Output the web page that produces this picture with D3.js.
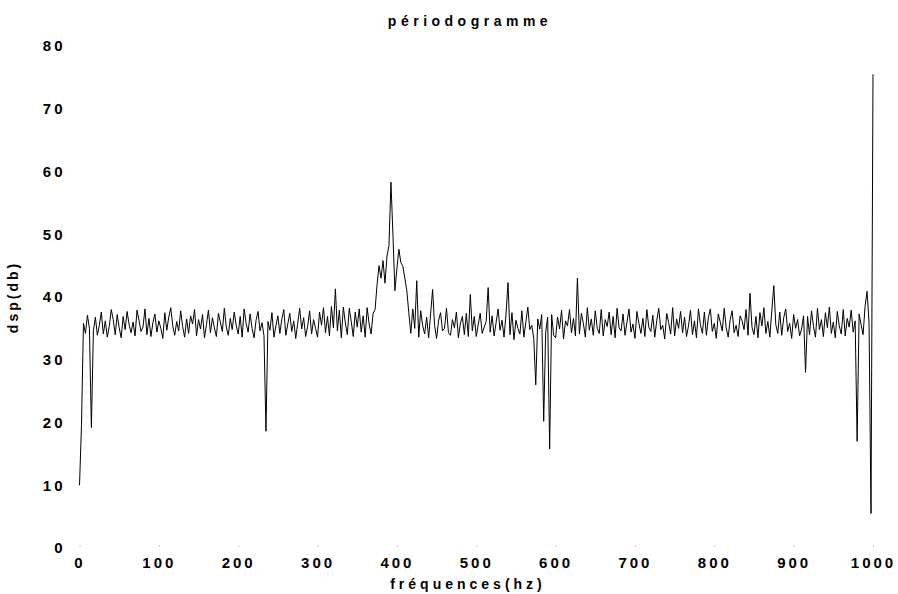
<!DOCTYPE html>
<html>
<head>
<meta charset="utf-8">
<script src="https://cdn.jsdelivr.net/npm/d3@7"></script>
<style>
  html, body { margin: 0; padding: 0; background: #fff; }
  svg text { font-family: "Liberation Sans", Arial, sans-serif; fill: #000; }
</style>
</head>
<body>
<svg id="chart" width="898" height="594"></svg>
<script>
// Periodogram: power spectral density (dB) sampled every 2.5 Hz from 0 to 1000 Hz
const freqStep = 2.5;
const dspDb = [
  10.0, 19.5, 35.8, 34.2, 37.1, 35.0, 19.2, 34.6, 36.8, 33.9, 35.5, 37.6, 34.1, 36.2, 33.6, 35.3, 38.0, 36.4, 34.0, 37.2,
  35.1, 33.5, 36.9, 34.8, 37.7, 35.6, 34.3, 36.0, 33.8, 37.9, 36.3, 34.5, 35.2, 38.1, 34.0, 36.6, 33.7, 35.9, 37.3, 34.4,
  36.2, 35.0, 33.4, 37.5, 34.7, 36.8, 38.3, 35.4, 33.9, 36.1, 34.6, 37.8, 35.3, 33.6, 36.5, 34.2, 37.0, 35.7, 38.0, 33.8,
  36.4, 34.9, 37.2, 33.5, 35.6, 37.9, 34.3, 36.7, 35.1, 33.7, 37.4, 36.0, 34.5, 38.2, 35.2, 33.9, 36.6, 34.8, 37.6, 35.5,
  34.1, 36.9, 33.6, 38.1, 35.8, 34.4, 37.3, 35.0, 33.5, 36.3, 37.7, 34.6, 35.9, 33.8, 18.6, 36.1, 34.7, 37.5, 33.6, 35.4,
  37.0, 34.2, 36.5, 38.0, 33.9, 35.7, 37.4, 34.5, 36.2, 33.4, 35.8, 38.2, 34.9, 36.7, 33.7, 35.3, 37.8, 34.1, 36.4, 35.0,
  33.6, 37.6, 35.5, 38.3, 34.3, 36.9, 33.8, 38.5, 35.1, 41.3, 34.6, 37.9, 33.5, 38.4, 35.9, 34.0, 38.2, 36.1, 33.7, 37.6,
  35.2, 38.1, 34.4, 37.0, 33.6, 38.3, 35.7, 34.1, 37.4, 38.0, 42.0, 45.0, 43.0, 45.8, 42.2, 46.5, 48.2, 58.3, 50.0, 41.0,
  44.5, 47.6, 45.5, 44.9, 43.0, 41.0, 37.5, 34.2, 38.1, 35.0, 42.6, 33.6, 37.8, 35.4, 34.1, 36.8, 33.5, 37.3, 41.2, 35.5,
  33.4, 36.2, 37.5, 34.6, 35.0, 38.2, 34.3, 33.9, 36.4, 35.1, 37.6, 33.5, 35.8, 36.9, 34.0, 37.4, 33.7, 40.4, 34.6, 36.9,
  33.7, 35.6, 37.4, 34.2, 35.2, 36.1, 41.5, 34.4, 37.0, 33.8, 35.9, 38.1, 34.7, 36.3, 33.6, 37.2, 42.3, 34.0, 37.5, 33.2,
  36.3, 35.0, 34.1, 37.8, 33.6, 36.0, 38.4, 34.8, 35.5, 33.4, 26.0, 36.5, 34.9, 37.2, 20.2, 34.4, 36.8, 15.8, 37.2, 33.9,
  33.5, 36.8, 34.9, 37.9, 33.3, 36.2, 35.4, 38.0, 34.3, 36.6, 33.8, 43.0, 34.1, 37.4, 35.8, 33.6, 38.3, 34.7, 36.5, 33.9,
  37.8, 35.0, 34.2, 38.0, 33.8, 36.4, 35.3, 37.6, 34.0, 36.9, 33.5, 38.2, 35.1, 34.6, 37.3, 33.9, 36.0, 38.1, 34.4, 35.7,
  33.4, 37.7, 35.8, 34.2, 36.6, 33.7, 38.0, 35.2, 34.5, 37.1, 33.6, 36.3, 38.2, 34.8, 35.5, 33.3, 37.4, 35.9, 34.1, 38.3,
  33.8, 36.5, 35.0, 37.7, 34.3, 36.8, 33.7, 35.4, 37.9, 34.0, 36.2, 33.5, 38.1, 35.6, 34.2, 37.6, 33.9, 36.7, 38.1, 34.5,
  35.8, 33.4, 37.3, 36.0, 34.6, 38.2, 35.1, 33.6, 36.4, 37.8, 34.3, 35.5, 33.7, 37.0, 36.2, 34.8, 38.0, 33.9, 40.6, 35.2,
  34.0, 36.9, 33.5, 37.5, 35.4, 38.3, 34.2, 36.1, 33.6, 37.9, 41.8, 35.6, 34.2, 37.6, 33.9, 36.7, 38.1, 34.5, 35.8, 33.4,
  37.2, 35.0, 36.4, 33.8, 34.9, 37.0, 28.0, 36.9, 34.0, 37.8, 35.3, 33.6, 38.2, 34.8, 36.4, 33.7, 37.5, 35.1, 38.4, 34.2,
  36.0, 33.5, 37.7, 35.4, 34.1, 38.0, 33.8, 36.6, 35.2, 37.9, 34.4, 36.2, 17.0, 37.3, 35.6, 34.0, 38.5, 40.9, 36.0, 5.5,
  75.5
];
const xTicks = [0, 100, 200, 300, 400, 500, 600, 700, 800, 900, 1000];
const yTicks = [0, 10, 20, 30, 40, 50, 60, 70, 80];

const titleText = "périodogramme";
const xLabelText = "fréquences(hz)";
const yLabelText = "dsp(db)";

const points = dspDb.map((v, i) => ({ f: i * freqStep, v }));

const svg = d3.select("#chart");
const x = d3.scaleLinear().domain([0, 1000]).range([79.5, 873]);
const y = d3.scaleLinear().domain([0, 80]).range([548, 46]);

const labelFont = { size: "15px", weight: "bold", spacing: "3px" };

// Bottom axis: only faint tick stubs, no baseline
const gx = svg.append("g")
  .attr("transform", `translate(0,${y(0)})`)
  .call(d3.axisBottom(x).tickValues(xTicks).tickSize(2).tickPadding(7).tickFormat(d3.format("d")));
gx.select(".domain").remove();
gx.selectAll(".tick line").attr("stroke", "#c8c8c8").attr("transform", "translate(0,-3)");
gx.selectAll(".tick text")
  .style("font-size", labelFont.size).style("font-weight", labelFont.weight)
  .style("letter-spacing", labelFont.spacing).attr("fill", "#000");

// Left axis labels
const gy = svg.append("g")
  .attr("transform", `translate(${x(0)},0)`)
  .call(d3.axisLeft(y).tickValues(yTicks).tickSize(0).tickPadding(14).tickFormat(d3.format("d")));
gy.select(".domain").remove();
gy.selectAll(".tick text")
  .style("font-size", labelFont.size).style("font-weight", labelFont.weight)
  .style("letter-spacing", labelFont.spacing).attr("fill", "#000");

// Spectrum trace
const line = d3.line().x(d => x(d.f)).y(d => y(d.v));
svg.append("path")
  .datum(points)
  .attr("fill", "none")
  .attr("stroke", "#000")
  .attr("stroke-width", 1)
  .attr("d", line);

// Title and axis titles
svg.append("text")
  .attr("x", 470).attr("y", 26)
  .attr("text-anchor", "middle")
  .style("font-size", "14px").style("font-weight", "bold").style("letter-spacing", "4.5px")
  .text(titleText);

svg.append("text")
  .attr("x", 468).attr("y", 589)
  .attr("text-anchor", "middle")
  .style("font-size", "14px").style("font-weight", "bold").style("letter-spacing", "4px")
  .text(xLabelText);

svg.append("text")
  .attr("transform", "translate(18,297) rotate(-90)")
  .attr("text-anchor", "middle")
  .style("font-size", "14px").style("font-weight", "bold").style("letter-spacing", "3px")
  .text(yLabelText);
</script>
</body>
</html>
